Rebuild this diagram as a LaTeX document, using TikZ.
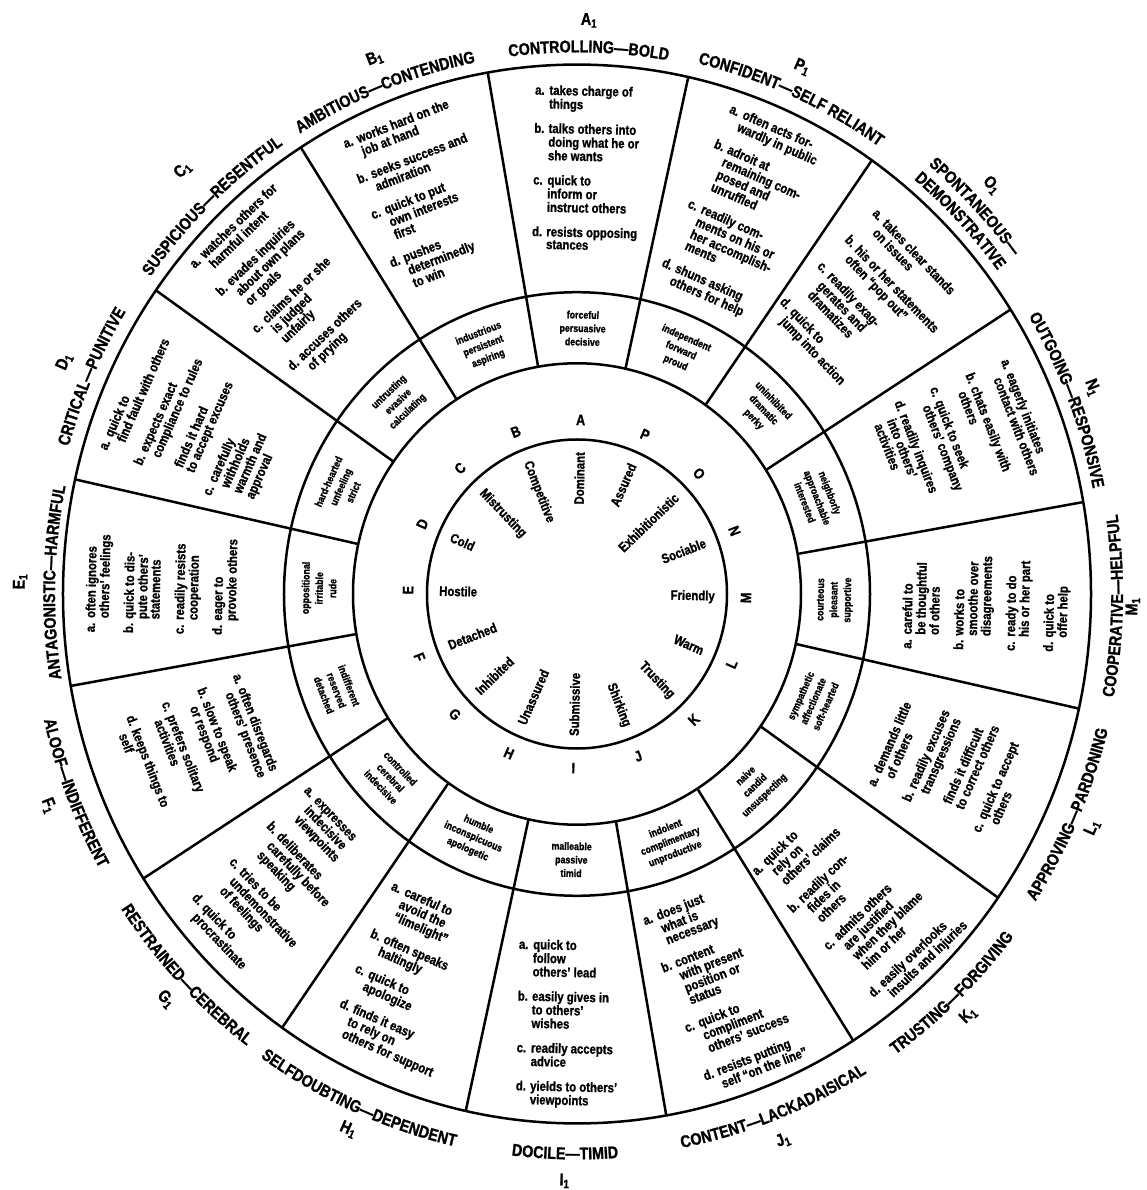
\documentclass[tikz,border=0pt]{standalone}
\usepackage{fontspec}
\setmainfont{Liberation Sans}[FakeStretch=0.84, BoldFont={Liberation Sans Bold}, BoldFeatures={FakeBold=1.2}]
\usetikzlibrary{decorations.text}

\newcommand\labsty{\bfseries\fontsize{17}{17}\selectfont}

\begin{document}
\begin{tikzpicture}[x=1pt, y=1.03pt, line width=2.5pt,
    behav/.style={font=\bfseries\fontsize{13.5}{12.6}\selectfont, inner sep=0pt},
    adj/.style={font=\bfseries\fontsize{10.5}{13.5}\selectfont, align=center, inner sep=0pt},
    letr/.style={font=\bfseries\fontsize{15}{15}\selectfont, inner sep=0pt},
    word/.style={font=\bfseries\fontsize{13.5}{13.5}\selectfont, inner sep=0pt},
    idx/.style={font=\labsty, inner sep=0pt},
    arclab/.style={decorate, decoration={text along path, text align=center, text={|\labsty|#1}}}]
    \useasboundingbox (-577pt,-596pt) rectangle (569pt,594pt);

    % Rings
    \draw (0,0) circle[radius=514];
    \draw (0,0) circle[radius=293];
    \draw (0,0) circle[radius=224];
    \draw (0,0) circle[radius=150];

    % Sector borders
    \draw (10:224) -- (10:514);
    \draw (32.5:224) -- (32.5:514);
    \draw (55:224) -- (55:514);
    \draw (77.5:224) -- (77.5:514);
    \draw (100:224) -- (100:514);
    \draw (122.5:224) -- (122.5:514);
    \draw (145:224) -- (145:514);
    \draw (167.5:224) -- (167.5:514);
    \draw (190:224) -- (190:514);
    \draw (212.5:224) -- (212.5:514);
    \draw (235:224) -- (235:514);
    \draw (257.5:224) -- (257.5:514);
    \draw (280:224) -- (280:514);
    \draw (302.5:224) -- (302.5:514);
    \draw (325:224) -- (325:514);
    \draw (347.5:224) -- (347.5:514);

    % Outer labels
    \path[arclab={CONTROLLING—BOLD}] (128.75:526) arc[start angle=128.75, end angle=48.75, radius=526];
    \path[arclab={AMBITIOUS—CONTENDING}] (151.25:526) arc[start angle=151.25, end angle=71.25, radius=526];
    \path[arclab={SUSPICIOUS—RESENTFUL}] (173.75:526) arc[start angle=173.75, end angle=93.75, radius=526];
    \path[arclab={CRITICAL—PUNITIVE}] (196.25:528) arc[start angle=196.25, end angle=116.25, radius=528];
    \path[arclab={ANTAGONISTIC—HARMFUL}] (218.75:522) arc[start angle=218.75, end angle=138.75, radius=522];
    \path[arclab={ALOOF—INDIFFERENT}] (161.25:547) arc[start angle=161.25, end angle=241.25, radius=547];
    \path[arclab={RESTRAINED—CEREBRAL}] (183.75:549) arc[start angle=183.75, end angle=263.75, radius=549];
    \path[arclab={SELFDOUBTING—DEPENDENT}] (206.25:550) arc[start angle=206.25, end angle=286.25, radius=550];
    \path[arclab={DOCILE—TIMID}] (228.75:549) arc[start angle=228.75, end angle=308.75, radius=549];
    \path[arclab={CONTENT—LACKADAISICAL}] (251.25:548) arc[start angle=251.25, end angle=331.25, radius=548];
    \path[arclab={TRUSTING—FORGIVING}] (273.75:549) arc[start angle=273.75, end angle=353.75, radius=549];
    \path[arclab={APPROVING—PARDONING}] (296.25:547) arc[start angle=296.25, end angle=376.25, radius=547];
    \path[arclab={COOPERATIVE—HELPFUL}] (318.75:546) arc[start angle=318.75, end angle=398.75, radius=546];
    \path[arclab={OUTGOING—RESPONSIVE}] (61.25:526) arc[start angle=61.25, end angle=-18.75, radius=526];
    \path[arclab={SPONTANEOUS—}] (83.75:545) arc[start angle=83.75, end angle=3.75, radius=545];
    \path[arclab={DEMONSTRATIVE}] (83.75:525) arc[start angle=83.75, end angle=3.75, radius=525];
    \path[arclab={CONFIDENT—SELF RELIANT}] (106.25:529) arc[start angle=106.25, end angle=26.25, radius=529];

    % Index labels
    \node[idx, rotate=-1.25] (iA) at (88.75:557) {A\textsubscript{1}};
    \node[idx, rotate=21.25] (iB) at (111.25:558) {B\textsubscript{1}};
    \node[idx, rotate=43.75] (iC) at (133.75:570) {C\textsubscript{1}};
    \node[idx, rotate=66.25] (iD) at (156.25:560) {D\textsubscript{1}};
    \node[idx, rotate=88.75] (iE) at (178.75:557) {E\textsubscript{1}};
    \node[idx, rotate=-68.75] (iF) at (201.25:567) {F\textsubscript{1}};
    \node[idx, rotate=-46.25] (iG) at (223.75:569) {G\textsubscript{1}};
    \node[idx, rotate=-23.75] (iH) at (246.25:568) {H\textsubscript{1}};
    \node[idx, rotate=-1.25] (iI) at (268.75:570) {I\textsubscript{1}};
    \node[idx, rotate=21.25] (iJ) at (291.25:569) {J\textsubscript{1}};
    \node[idx, rotate=43.75] (iK) at (313.75:566) {K\textsubscript{1}};
    \node[idx, rotate=66.25] (iL) at (336.25:563) {L\textsubscript{1}};
    \node[idx, rotate=88.75] (iM) at (358.75:556) {M\textsubscript{1}};
    \node[idx, rotate=-68.75] (iN) at (21.25:553) {N\textsubscript{1}};
    \node[idx, rotate=-46.25] (iO) at (43.75:574) {O\textsubscript{1}};
    \node[idx, rotate=-23.75] (iP) at (66.25:559) {P\textsubscript{1}};

    % Behaviour blocks
    \node[behav, rotate=-1.25] (bA) at (88.75:412) {\begin{tabular}{@{}l@{ }l@{}}
        a. & takes charge of\\ & things\\[11pt]
        b. & talks others into\\ & doing what he or\\ & she wants\\[11pt]
        c. & quick to\\ & inform or\\ & instruct others\\[11pt]
        d. & resists opposing\\ & stances\end{tabular}};
    \node[behav, rotate=21.25] (bB) at (111.25:414) {\begin{tabular}{@{}l@{ }l@{}}
        a. & works hard on the\\ & job at hand\\[11pt]
        b. & seeks success and\\ & admiration\\[11pt]
        c. & quick to put\\ & own interests\\ & first\\[11pt]
        d. & pushes\\ & determinedly\\ & to win\end{tabular}};
    \node[behav, rotate=43.75] (bC) at (133.75:418) {\begin{tabular}{@{}l@{ }l@{}}
        a. & watches others for\\ & harmful intent\\[11pt]
        b. & evades inquiries\\ & about own plans\\ & or goals\\[11pt]
        c. & claims he or she\\ & is judged\\ & unfairly\\[11pt]
        d. & accuses others\\ & of prying\end{tabular}};
    \node[behav, rotate=66.25] (bD) at (156.25:412) {\begin{tabular}{@{}l@{ }l@{}}
        a. & quick to\\ & find fault with others\\[11pt]
        b. & expects exact\\ & compliance to rules\\[11pt]
         & finds it hard\\ & to accept excuses\\[11pt]
        c. & carefully\\ & withholds\\ & warmth and\\ & approval\end{tabular}};
    \node[behav, rotate=88.75] (bE) at (178.75:414) {\begin{tabular}{@{}l@{ }l@{}}
        a. & often ignores\\ & others' feelings\\[11pt]
        b. & quick to dis-\\ & pute others'\\ & statements\\[11pt]
        c. & readily resists\\ & cooperation\\[11pt]
        d. & eager to\\ & provoke others\end{tabular}};
    \node[behav, rotate=-68.75] (bF) at (201.25:410) {\begin{tabular}{@{}l@{ }l@{}}
        a. & often disregards\\ & others' presence\\[11pt]
        b. & slow to speak\\ & or respond\\[11pt]
        c. & prefers solitary\\ & activities\\[11pt]
        d. & keeps things to\\ & self\end{tabular}};
    \node[behav, rotate=-46.25] (bG) at (223.75:410) {\begin{tabular}{@{}l@{ }l@{}}
        a. & expresses\\ & indecisive\\ & viewpoints\\[11pt]
        b. & deliberates\\ & carefully before\\ & speaking\\[11pt]
        c. & tries to be\\ & undemonstrative\\ & of feelings\\[11pt]
        d. & quick to\\ & procrastinate\end{tabular}};
    \node[behav, rotate=-23.75] (bH) at (246.25:410) {\begin{tabular}{@{}l@{ }l@{}}
        a. & careful to\\ & avoid the\\ & ``limelight''\\[11pt]
        b. & often speaks\\ & haltingly\\[11pt]
        c. & quick to\\ & apologize\\[11pt]
        d. & finds it easy\\ & to rely on\\ & others for support\end{tabular}};
    \node[behav, rotate=-1.25] (bI) at (268.75:418) {\begin{tabular}{@{}l@{ }l@{}}
        a. & quick to\\ & follow\\ & others' lead\\[11pt]
        b. & easily gives in\\ & to others'\\ & wishes\\[11pt]
        c. & readily accepts\\ & advice\\[11pt]
        d. & yields to others'\\ & viewpoints\end{tabular}};
    \node[behav, rotate=21.25] (bJ) at (291.25:410) {\begin{tabular}{@{}l@{ }l@{}}
        a. & does just\\ & what is\\ & necessary\\[11pt]
        b. & content\\ & with present\\ & position or\\ & status\\[11pt]
        c. & quick to\\ & compliment\\ & others' success\\[11pt]
        d. & resists putting\\ & self ``on the line''\end{tabular}};
    \node[behav, rotate=43.75] (bK) at (313.75:410) {\begin{tabular}{@{}l@{ }l@{}}
        a. & quick to\\ & rely on\\ & others' claims\\[11pt]
        b. & readily con-\\ & fides in\\ & others\\[11pt]
        c. & admits others\\ & are justified\\ & when they blame\\ & him or her\\[11pt]
        d. & easily overlooks\\ & insults and injuries\end{tabular}};
    \node[behav, rotate=66.25] (bL) at (336.25:410) {\begin{tabular}{@{}l@{ }l@{}}
        a. & demands little\\ & of others\\[11pt]
        b. & readily excuses\\ & transgressions\\[11pt]
         & finds it difficult\\ & to correct others\\[11pt]
        c. & quick to accept\\ & others\end{tabular}};
    \node[behav, rotate=88.75] (bM) at (358.75:410) {\begin{tabular}{@{}l@{ }l@{}}
        a. & careful to\\ & be thoughtful\\ & of others\\[11pt]
        b. & works to\\ & smoothe over\\ & disagreements\\[11pt]
        c. & ready to do\\ & his or her part\\[11pt]
        d. & quick to\\ & offer help\end{tabular}};
    \node[behav, rotate=-68.75] (bN) at (21.25:410) {\begin{tabular}{@{}l@{ }l@{}}
        a. & eagerly initiates\\ & contact with others\\[11pt]
        b. & chats easily with\\ & others\\[11pt]
        c. & quick to seek\\ & others' company\\[11pt]
        d. & readily inquires\\ & into others'\\ & activities\end{tabular}};
    \node[behav, rotate=-46.25] (bO) at (43.75:402) {\begin{tabular}{@{}l@{ }l@{}}
        a. & takes clear stands\\ & on issues\\[11pt]
        b. & his or her statements\\ & often ``pop out''\\[11pt]
        c. & readily exag-\\ & gerates and\\ & dramatizes\\[11pt]
        d. & quick to\\ & jump into action\end{tabular}};
    \node[behav, rotate=-23.75] (bP) at (66.25:404) {\begin{tabular}{@{}l@{ }l@{}}
        a. & often acts for-\\ & wardly in public\\[11pt]
        b. & adroit at\\ & remaining com-\\ & posed and\\ & unruffled\\[11pt]
        c. & readily com-\\ & ments on his or\\ & her accomplish-\\ & ments\\[11pt]
        d. & shuns asking\\ & others for help\end{tabular}};

    % Adjective ring
    \node[adj, rotate=-1.25] (jA) at (88.75:258) {forceful\\persuasive\\decisive};
    \node[adj, rotate=21.25] (jB) at (111.25:258) {industrious\\persistent\\aspiring};
    \node[adj, rotate=43.75] (jC) at (133.75:258) {untrusting\\evasive\\calculating};
    \node[adj, rotate=66.25] (jD) at (156.25:258) {hard-hearted\\unfeeling\\strict};
    \node[adj, rotate=88.75] (jE) at (178.75:258) {oppositional\\irritable\\rude};
    \node[adj, rotate=-68.75] (jF) at (201.25:258) {indifferent\\reserved\\detached};
    \node[adj, rotate=-46.25] (jG) at (223.75:258) {controlled\\cerebral\\indecisive};
    \node[adj, rotate=-23.75] (jH) at (246.25:258) {humble\\inconspicuous\\apologetic};
    \node[adj, rotate=-1.25] (jI) at (268.75:258) {malleable\\passive\\timid};
    \node[adj, rotate=21.25] (jJ) at (291.25:258) {indolent\\complimentary\\unproductive};
    \node[adj, rotate=43.75] (jK) at (313.75:258) {naive\\candid\\unsuspecting};
    \node[adj, rotate=66.25] (jL) at (336.25:258) {sympathetic\\affectionate\\soft-hearted};
    \node[adj, rotate=88.75] (jM) at (358.75:258) {courteous\\pleasant\\supportive};
    \node[adj, rotate=-68.75] (jN) at (21.25:258) {neighborly\\approachable\\interested};
    \node[adj, rotate=-46.25] (jO) at (43.75:258) {uninhibited\\dramatic\\perky};
    \node[adj, rotate=-23.75] (jP) at (66.25:258) {independent\\forward\\proud};

    % Letter ring
    \node[letr, rotate=-1.25] (lA) at (88.75:169) {A};
    \node[letr, rotate=21.25] (lB) at (111.25:169) {B};
    \node[letr, rotate=43.75] (lC) at (133.75:169) {C};
    \node[letr, rotate=66.25] (lD) at (156.25:169) {D};
    \node[letr, rotate=88.75] (lE) at (178.75:169) {E};
    \node[letr, rotate=-68.75] (lF) at (201.25:169) {F};
    \node[letr, rotate=-46.25] (lG) at (223.75:169) {G};
    \node[letr, rotate=-23.75] (lH) at (246.25:169) {H};
    \node[letr, rotate=-1.25] (lI) at (268.75:169) {I};
    \node[letr, rotate=21.25] (lJ) at (291.25:169) {J};
    \node[letr, rotate=43.75] (lK) at (313.75:169) {K};
    \node[letr, rotate=66.25] (lL) at (336.25:169) {L};
    \node[letr, rotate=88.75] (lM) at (358.75:169) {M};
    \node[letr, rotate=-68.75] (lN) at (21.25:169) {N};
    \node[letr, rotate=-46.25] (lO) at (43.75:169) {O};
    \node[letr, rotate=-23.75] (lP) at (66.25:169) {P};

    % Inner words
    \node[word, rotate=88.75, anchor=east] (wA) at (88.75:139) {Dominant};
    \node[word, rotate=-68.75, anchor=west] (wB) at (111.25:139) {Competitive};
    \node[word, rotate=-46.25, anchor=west] (wC) at (133.75:139) {Mistrusting};
    \node[word, rotate=-23.75, anchor=west] (wD) at (156.25:139) {Cold};
    \node[word, rotate=-1.25, anchor=west] (wE) at (178.75:139) {Hostile};
    \node[word, rotate=21.25, anchor=west] (wF) at (201.25:139) {Detached};
    \node[word, rotate=43.75, anchor=west] (wG) at (223.75:139) {Inhibited};
    \node[word, rotate=66.25, anchor=west] (wH) at (246.25:139) {Unassured};
    \node[word, rotate=88.75, anchor=west] (wI) at (268.75:139) {Submissive};
    \node[word, rotate=-68.75, anchor=east] (wJ) at (291.25:139) {Shirking};
    \node[word, rotate=-46.25, anchor=east] (wK) at (313.75:139) {Trusting};
    \node[word, rotate=-23.75, anchor=east] (wL) at (336.25:139) {Warm};
    \node[word, rotate=-1.25, anchor=east] (wM) at (358.75:139) {Friendly};
    \node[word, rotate=21.25, anchor=east] (wN) at (21.25:139) {Sociable};
    \node[word, rotate=43.75, anchor=east] (wO) at (43.75:139) {Exhibitionistic};
    \node[word, rotate=66.25, anchor=east] (wP) at (66.25:139) {Assured};
\end{tikzpicture}
\end{document}
